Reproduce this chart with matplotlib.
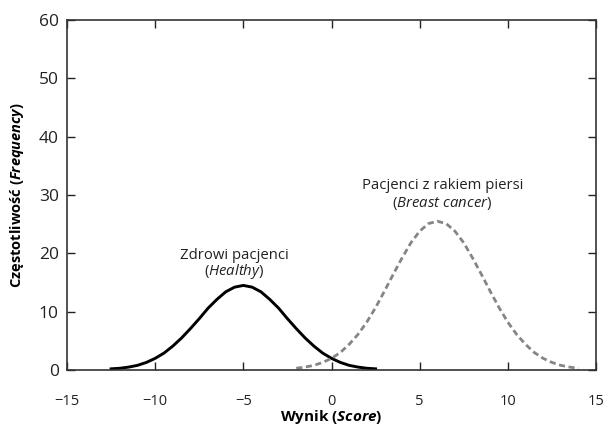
import matplotlib
matplotlib.use("Agg")
import matplotlib.pyplot as plt

# Wartości
x_zdrowi = [-12.5, -12, -11.5, -11, -10.5, -10, -9.5, -9, -8.5, -8, -7.5, -7, -6.5, -6, -5.5,
            -5, -4.5, -4, -3.5, -3, -2.5, -2, -1.5, -1, -0.5, 0, 0.5, 1, 1.5, 2, 2.5]
y_zdrowi = [0.2, 0.3, 0.5, 0.8, 1.3, 2.0, 2.9, 4.1, 5.5, 7.1, 8.8, 10.6, 12.1, 13.4, 14.2,
            14.5, 14.2, 13.4, 12.1, 10.6, 8.8, 7.1, 5.5, 4.1, 2.9, 2.0, 1.3, 0.8, 0.5, 0.3, 0.2]

x_rak = [-2, -1.5, -1, -0.5, 0, 0.5, 1, 1.5, 2, 2.5, 3, 3.5, 4, 4.5, 5, 5.5,
         6, 6.5, 7, 7.5, 8, 8.5, 9, 9.5, 10, 10.5, 11, 11.5, 12, 12.5, 13, 13.5, 14]
y_rak = [0.3, 0.5, 0.8, 1.3, 2.0, 3.0, 4.4, 6.1, 8.2, 10.7, 13.5, 16.4, 19.2, 21.8, 23.8, 25.1,
         25.5, 25.1, 23.8, 21.8, 19.2, 16.4, 13.5, 10.7, 8.2, 6.1, 4.4, 3.0, 2.0, 1.3, 0.8, 0.5, 0.3]

x_ticks = [-15, -10, -5, 0, 5, 10, 15]
y_ticks = [0, 10, 20, 30, 40, 50, 60]

plt.rcParams['font.family'] = ['Open Sans', 'DejaVu Sans']
plt.rcParams['mathtext.fontset'] = 'custom'
plt.rcParams['mathtext.it'] = 'Open Sans:italic'
plt.rcParams['mathtext.bf'] = 'Open Sans:italic:bold'

fig = plt.figure(figsize=(6.06, 4.25), dpi=100)
ax = fig.add_axes([0.1106, 0.1294, 0.8729, 0.8236])

ax.plot(x_zdrowi, y_zdrowi, color='black', lw=2.1)
ax.plot(x_rak, y_rak, color='#858585', lw=2.0, linestyle=(0, (2.2, 1.3)))

ax.set_xlim(-15, 15)
ax.set_ylim(0, 60)
ax.set_xticks(x_ticks)
ax.set_yticks(y_ticks)
ax.set_xticklabels([str(t).replace('-', '\u2212') for t in x_ticks])
ax.tick_params(direction='in', length=5.5, width=1, top=True, right=True,
               labeltop=False, labelright=False, colors='#222222')
ax.tick_params(axis='x', labelsize=10.5, pad=17)
ax.tick_params(axis='y', labelsize=12.5, pad=6)
for s in ax.spines.values():
    s.set_linewidth(1.2)
    s.set_color('#333333')

ax.set_xlabel(r'Wynik ($\mathbf{Score}$)', fontsize=11, fontweight='bold', va='center')
ax.xaxis.set_label_coords(0.5, -0.134)
ax.set_ylabel(r'Częstotliwość ($\mathbf{Frequency}$)', fontsize=10.5, fontweight='bold', labelpad=9)

ax.text(-5.5, 19.7, 'Zdrowi pacjenci', ha='center', va='center', fontsize=10.7, color='#222222')
ax.text(-5.5, 16.8, r'($\mathit{Healthy}$)', ha='center', va='center', fontsize=10.7, color='#222222')
ax.text(6.3, 31.7, 'Pacjenci z rakiem piersi', ha='center', va='center', fontsize=10.7, color='#222222')
ax.text(6.3, 28.6, r'($\mathit{Breast\ cancer}$)', ha='center', va='center', fontsize=10.7, color='#222222')

fig.savefig('out.png', dpi=100)
